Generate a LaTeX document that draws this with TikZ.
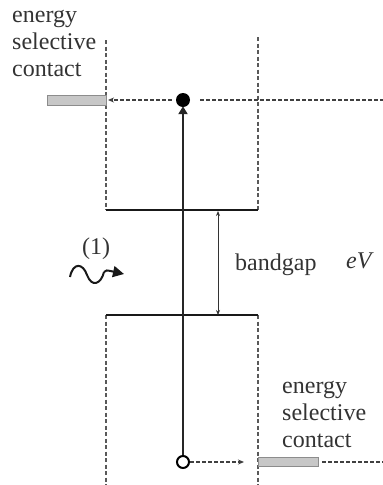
\documentclass[tikz,border=0pt]{standalone}
\usepackage{fontspec}
\setmainfont{Liberation Serif}
\usetikzlibrary{arrows.meta}
\begin{document}
\begin{tikzpicture}[x=1pt,y=-1pt,
  wall/.style={line width=1.5pt, dash pattern=on 4pt off 2.5pt, black!65},
  level/.style={line width=2.2pt, black!90},
  contact/.style={draw=black!45, fill=black!22, line width=0.8pt},
  flow/.style={line width=1.3pt, dash pattern=on 3.5pt off 2.5pt, black!75},
  lbl/.style={font=\fontsize{24}{27}\selectfont, align=left, text=black!80, inner sep=0pt},
  dotn/.style={circle, fill=black, inner sep=0pt, minimum size=14pt},
  holen/.style={circle, draw=black, fill=white, line width=2pt, inner sep=0pt, minimum size=12pt}]
\useasboundingbox (0,0) rectangle (383,485);
% walls
\coordinate (tlw) at (106,40);
\coordinate (tlb) at (106,210);
\coordinate (trw) at (258,37);
\coordinate (trb) at (258,210);
\coordinate (blt) at (106,315);
\coordinate (blb) at (106,485);
\coordinate (brt) at (258,315);
\coordinate (brb) at (258,485);
\draw[wall] (tlw) -- (tlb);
\draw[wall] (trw) -- (trb);
\draw[wall] (blt) -- (blb);
\draw[wall] (brt) -- (brb);
\draw[level] (tlb) -- (trb);
\draw[level] (blt) -- (brt);
% contacts
\node[contact, minimum width=59pt, minimum height=10pt, inner sep=0pt] (c1) at (76.5,100) {};
\node[contact, minimum width=60pt, minimum height=9pt, inner sep=0pt] (c2) at (288,462) {};
% carriers
\node[dotn] (e) at (183,100) {};
\node[holen] (h) at (183,462) {};
\draw[line width=2.2pt, black!85, -{Triangle[length=8pt,width=9pt]}] (h.north) -- ([yshift=1pt]e.south);
% flows
\coordinate (wl) at (108,100);
\coordinate (rend) at (383,100);
\coordinate (rend2) at (383,462);
\draw[flow, -{Stealth[length=6pt,width=5pt]}] ([xshift=-4pt]e.west) -- (wl);
\draw[flow] ([xshift=10pt]e.east) -- (rend);
\draw[flow, -{Stealth[length=6pt,width=5pt]}] (h.east) -- (244,462);
\draw[flow] ([xshift=4pt]c2.east) -- (rend2);
% bandgap
\coordinate (g1) at (218,211);
\coordinate (g2) at (218,315);
\draw[line width=0.9pt, black!80, {Stealth[length=5pt,width=4pt]}-{Stealth[length=5pt,width=4pt]}] (g1) -- (g2);
\node[lbl, anchor=base west] (bg) at (235,270) {bandgap};
\node[lbl, anchor=base west] (ev) at (346,268) {\textit{eV}};
% photon
\node[lbl, anchor=base west] (one) at (82,254) {(1)};
\coordinate (w0) at (70,277);
\coordinate (w1) at (104,272);
\coordinate (wt) at (124,274);
\draw[line width=2pt, black!90] (w0) .. controls (73,262) and (83,263) .. (87,275) .. controls (92,288) and (101,284) .. (w1);
\draw[line width=2pt, black!90, -{Triangle[length=11pt,width=11pt]}] (w1) .. controls (106,270) .. (wt);
% labels
\node[lbl, anchor=north west] (t1) at (12,10) {energy\\selective\\contact};
\node[lbl, anchor=north west] (t2) at (282,381) {energy\\selective\\contact};
\end{tikzpicture}
\end{document}
